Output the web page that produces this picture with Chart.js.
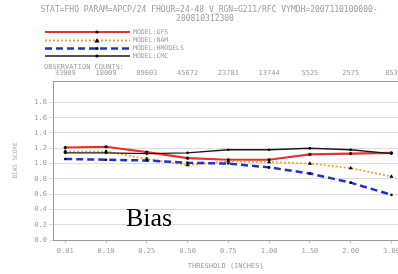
<!DOCTYPE html>
<html>
<head>
<meta charset="utf-8">
<script src="https://cdn.jsdelivr.net/npm/chart.js@4/dist/chart.umd.min.js"></script>
<style>
html, body { margin: 0; padding: 0; background: #fff; overflow: hidden; width: 398px; height: 274px; }
</style>
</head>
<body>
<canvas id="chart-area" width="404" height="274"></canvas>
<script>
// values
var thresholds = ['0.01', '0.10', '0.25', '0.50', '0.75', '1.00', '1.50', '2.00', '3.00']
var obsCounts = ['33009', '18009', '89603', '45672', '23781', '13744', '5525', '2575', '853']
var gfs     = [1.21, 1.22, 1.15, 1.07, 1.05, 1.05, 1.12, 1.13, 1.14]
var nam     = [1.16, 1.16, 1.06, 0.98, 1.03, 1.02, 1.00, 0.94, 0.83]
var hmodels = [1.06, 1.05, 1.04, 1.01, 1.00, 0.95, 0.87, 0.75, 0.59]
var cmc     = [1.14, 1.14, 1.13, 1.14, 1.18, 1.18, 1.20, 1.18, 1.13]
var yTicks  = [0, 0.2, 0.4, 0.6, 0.8, 1.0, 1.2, 1.4, 1.6, 1.8]
var seriesNames = ['MODEL:GFS', 'MODEL:NAM', 'MODEL:HMODELS', 'MODEL:CMC']

var titleLines = ['STAT=FHO PARAM=APCP/24 FHOUR=24-48 V_RGN=G211/RFC VYMDH=2007110100000-', '200810312300']

var mono = 'DejaVu Sans Mono'
var grey = '#9c9c9c'

function pts(arr) {
	return arr.map(function (v, i) { return { x: i, y: v } })
}

// title, legend, obs label and the "Bias" caption
var extraText = {
	id: 'extraText',
	afterDraw: function (chart) {
		var ctx = chart.ctx
		ctx.save()
		ctx.fillStyle = grey
		ctx.textBaseline = 'middle'
		ctx.textAlign = 'center'
		ctx.font = '8px "' + mono + '"'
		ctx.fillText(titleLines[0], 209, 10)
		ctx.fillText(titleLines[1], 205, 19)

		// legend
		var rows = [32, 40.5, 48.5, 56]
		chart.data.datasets.forEach(function (ds, i) {
			var y = rows[i]
			ctx.save()
			ctx.strokeStyle = ds.borderColor
			ctx.lineWidth = ds.borderWidth
			ctx.setLineDash(ds.borderDash || [])
			ctx.beginPath()
			ctx.moveTo(45, y)
			ctx.lineTo(130, y)
			ctx.stroke()
			ctx.restore()
			ctx.fillStyle = '#000'
			ctx.beginPath()
			if (ds.pointStyle === 'triangle') {
				ctx.moveTo(97, y - 2.5)
				ctx.lineTo(99.5, y + 2)
				ctx.lineTo(94.5, y + 2)
			} else {
				ctx.arc(97, y, 1.6, 0, Math.PI * 2)
			}
			ctx.fill()
			ctx.fillStyle = grey
			ctx.textAlign = 'left'
			ctx.font = '6.5px "' + mono + '"'
			ctx.fillText(ds.label, 133, y)
		})

		ctx.font = '7px "' + mono + '"'
		ctx.textAlign = 'left'
		ctx.fillText('OBSERVATION COUNTS:', 44, 67)

		ctx.fillStyle = '#000'
		ctx.font = '26px "Liberation Serif"'
		ctx.textBaseline = 'alphabetic'
		ctx.fillText('Bias', 126, 226)
		ctx.restore()
	}
}

var config = {
	type: 'line',
	data: {
		datasets: [{
			label: seriesNames[0],
			data: pts(gfs),
			borderColor: '#e5322f',
			borderWidth: 2.2,
			pointStyle: 'circle',
			pointRadius: 1.6,
			pointBackgroundColor: '#000',
			pointBorderColor: '#000',
			pointBorderWidth: 0,
			order: 3
		}, {
			label: seriesNames[1],
			data: pts(nam),
			borderColor: '#f2a23a',
			borderWidth: 1.8,
			borderDash: [2, 2],
			pointStyle: 'triangle',
			pointRadius: 2.4,
			pointBackgroundColor: '#000',
			pointBorderColor: '#000',
			pointBorderWidth: 0,
			order: 2
		}, {
			label: seriesNames[2],
			data: pts(hmodels),
			borderColor: '#2431c4',
			borderWidth: 2.5,
			borderDash: [7, 4],
			pointStyle: 'circle',
			pointRadius: 1.3,
			pointBackgroundColor: '#000',
			pointBorderColor: '#000',
			pointBorderWidth: 0,
			order: 1
		}, {
			label: seriesNames[3],
			data: pts(cmc),
			borderColor: '#1a1a1a',
			borderWidth: 1.4,
			pointStyle: 'circle',
			pointRadius: 1.3,
			pointBackgroundColor: '#000',
			pointBorderColor: '#000',
			pointBorderWidth: 0,
			order: 0
		}]
	},
	options: {
		responsive: false,
		animation: false,
		layout: { autoPadding: false, padding: { top: 60, left: 0, right: 0, bottom: 0 } },
		plugins: {
			legend: { display: false },
			title: { display: false },
			tooltip: { enabled: false }
		},
		scales: {
			x: {
				type: 'linear',
				position: 'bottom',
				min: -0.3,
				max: 8.17,
				afterBuildTicks: function (axis) {
					axis.ticks = thresholds.map(function (t, i) { return { value: i } })
				},
				afterFit: function (axis) { axis.height = 34 },
				grid: { drawOnChartArea: false, tickLength: 3, color: '#bbb' },
				border: { color: '#999' },
				ticks: {
					padding: 4,
					color: grey,
					font: { family: mono, size: 7 },
					maxRotation: 0,
					callback: function (v, i) { return thresholds[i] }
				},
				title: {
					display: true,
					text: 'THRESHOLD (INCHES)',
					color: grey,
					font: { family: mono, size: 7 },
					padding: { top: 0, bottom: 4 }
				}
			},
			x2: {
				type: 'linear',
				position: 'top',
				min: -0.3,
				max: 8.17,
				afterBuildTicks: function (axis) {
					axis.ticks = obsCounts.map(function (t, i) { return { value: i } })
				},
				afterFit: function (axis) { axis.height = 21 },
				grid: { drawOnChartArea: false, drawTicks: false },
				border: { color: '#999' },
				ticks: {
					padding: 4,
					color: grey,
					font: { family: mono, size: 7 },
					maxRotation: 0,
					callback: function (v, i) { return obsCounts[i] }
				}
			},
			y: {
				min: 0,
				max: 2.08,
				afterBuildTicks: function (axis) {
					axis.ticks = yTicks.map(function (v) { return { value: v } })
				},
				afterFit: function (axis) { axis.width = 53 },
				grid: { color: '#dcdcdc', tickLength: 4 },
				border: { color: '#999' },
				ticks: {
					padding: 2,
					color: grey,
					font: { family: mono, size: 7 },
					callback: function (v) { return v.toFixed(1) }
				},
				title: {
					display: true,
					text: 'BIAS SCORE',
					color: '#aaa',
					font: { family: mono, size: 6 },
					padding: { top: 12, bottom: 0 }
				}
			}
		}
	},
	plugins: [extraText]
}

window.onload = function () {
	var ctx = document.getElementById('chart-area').getContext('2d')
	window.myLine = new Chart(ctx, config)
}
</script>
</body>
</html>
